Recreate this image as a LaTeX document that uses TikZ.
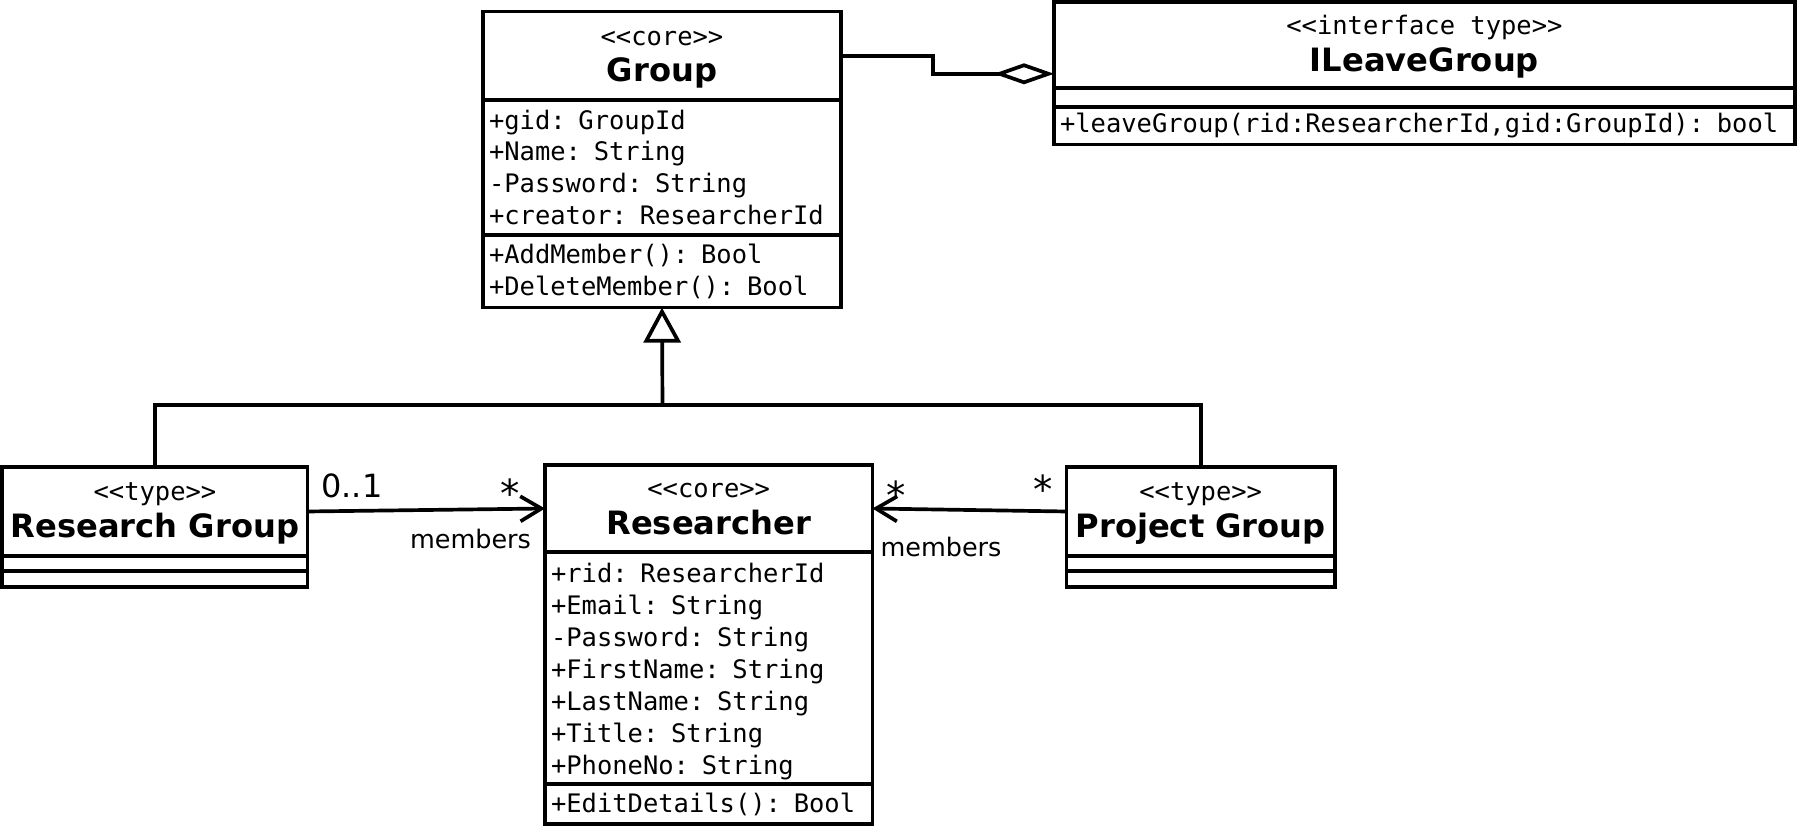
\documentclass[tikz,border=0pt]{standalone}
\usepackage{fontspec}
\setmainfont{DejaVu Sans}
\setmonofont{DejaVu Sans Mono}
\usetikzlibrary{positioning, arrows.meta}

\newcommand{\clsname}[1]{{\rmfamily\bfseries\fontsize{18.3}{21}\selectfont #1}}
\newcommand{\umlhead}[2]{\rule{0pt}{18.2pt}#1\\\clsname{#2}\rule[-9.4pt]{0pt}{0pt}}

\tikzset{
  umlbox/.style={draw, rectangle, line width=2.1pt, inner sep=0pt, outer sep=0pt},
  headbox/.style={umlbox, align=center, font=\ttfamily\fontsize{14.5}{21}\selectfont},
  partbox/.style={umlbox, align=left, inner xsep=0.12cm, font=\ttfamily\fontsize{14.5}{18.2}\selectfont},
  multlabel/.style={font=\fontsize{18.2}{20}\selectfont, inner sep=0pt},
  starlabel/.style={font=\fontsize{22}{24}\selectfont, inner sep=0pt},
  rolelabel/.style={font=\fontsize{14.5}{17}\selectfont, inner sep=0pt},
}

\begin{document}
\begin{tikzpicture}[x=0.02cm, y=-0.02cm, line width=2.1pt, node distance=0pt,
    >={Straight Barb[length=0.42cm,width=0.5cm]}]
  \useasboundingbox (0,0) rectangle (1800,828);

  % Group
  \node[headbox, minimum width=7.16cm, minimum height=1.77cm, anchor=north west] (grphead) at (483,11.5) {\umlhead{<<core>>}{Group}};
  \node[partbox, text width=6.92cm, minimum height=2.7cm, below=of grphead] (grpattr) {+gid: GroupId\\+Name: String\\-Password: String\\+creator: ResearcherId};
  \node[partbox, text width=6.92cm, minimum height=1.454cm, below=of grpattr] (grpops) {+AddMember(): Bool\\+DeleteMember(): Bool};

  % ILeaveGroup
  \node[headbox, minimum width=14.82cm, minimum height=1.72cm, anchor=north west] (ilghead) at (1054,2.3) {\umlhead{<<interface type>>}{ILeaveGroup}};
  \node[umlbox, minimum width=14.82cm, minimum height=0.368cm, below=of ilghead] (ilgattr) {};
  \node[partbox, text width=14.58cm, minimum height=0.756cm, below=of ilgattr] (ilgops) {+leaveGroup(rid:ResearcherId,gid:GroupId): bool};

  % Research Group
  \node[headbox, minimum width=6.108cm, minimum height=1.78cm, anchor=north west] (rghead) at (2.3,467) {\umlhead{<<type>>}{Research Group}};
  \node[umlbox, minimum width=6.108cm, minimum height=0.3cm, below=of rghead] (rgattr) {};
  \node[umlbox, minimum width=6.108cm, minimum height=0.32cm, below=of rgattr] (rgops) {};

  % Researcher
  \node[headbox, minimum width=6.55cm, minimum height=1.74cm, anchor=north west] (rsrhead) at (545,465) {\umlhead{<<core>>}{Researcher}};
  \node[partbox, text width=6.31cm, minimum height=4.64cm, below=of rsrhead] (rsrattr) {\rule{0pt}{14.9pt}+rid: ResearcherId\\+Email: String\\-Password: String\\+FirstName: String\\+LastName: String\\+Title: String\\+PhoneNo: String};
  \node[partbox, text width=6.31cm, minimum height=0.8cm, below=of rsrattr] (rsrops) {+EditDetails(): Bool};

  % Project Group
  \node[headbox, minimum width=5.37cm, minimum height=1.78cm, anchor=north west] (pghead) at (1066.5,467) {\umlhead{<<type>>}{Project Group}};
  \node[umlbox, minimum width=5.37cm, minimum height=0.3cm, below=of pghead] (pgattr) {};
  \node[umlbox, minimum width=5.37cm, minimum height=0.32cm, below=of pgattr] (pgops) {};

  % generalisation
  \coordinate (gen) at (662.5,405);
  \draw[-{Triangle[open,length=0.7cm,width=0.74cm]}] (gen) -- (grpops.south);
  \draw (rghead.north) |- (gen) -| (pghead.north);

  % aggregation
  \draw[{Diamond[open,length=1.2cm,width=0.42cm]}-] ([yshift=0.29cm]ilghead.south west) -- ++(-121,0) |- (grphead.east);

  % associations
  \draw[->] (rghead.east) -- (rsrhead.west);
  \draw[->] (pghead.west) -- (rsrhead.east);

  \node[multlabel, anchor=base] (rgmult) at (352,497) {0..1};
  \node[starlabel, anchor=base] (rgstar) at (510,507) {*};
  \node[rolelabel, anchor=base] (rgrole) at (470.5,548) {members};
  \node[starlabel, anchor=base] (rsrstar) at (896,509.5) {*};
  \node[starlabel, anchor=base] (pgstar) at (1043,503.5) {*};
  \node[rolelabel, anchor=base] (pgrole) at (941,556.3) {members};
\end{tikzpicture}
\end{document}
